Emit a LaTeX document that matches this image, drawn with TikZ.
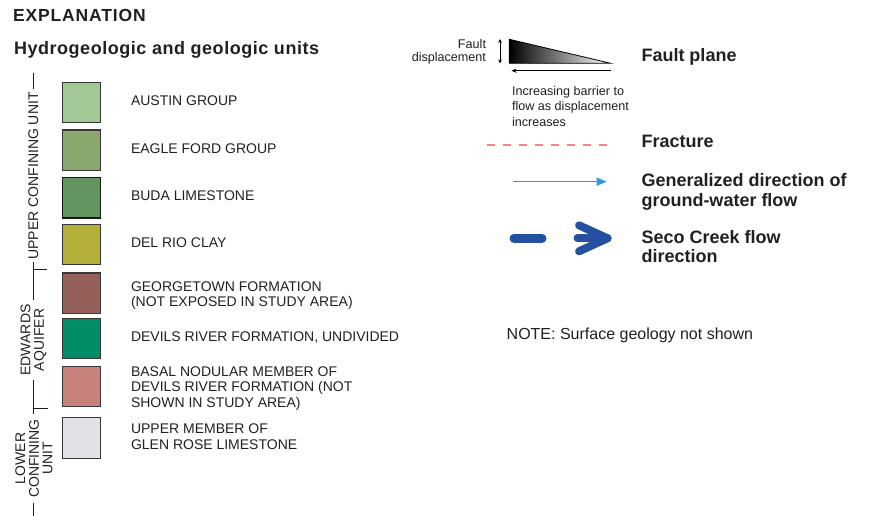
\documentclass[tikz,border=0pt]{standalone}
\usepackage{fontspec}
\setmainfont{Liberation Sans}
\usetikzlibrary{arrows.meta}
\definecolor{txt}{HTML}{231F20}
\definecolor{cAustin}{HTML}{A2C895}
\definecolor{cEagle}{HTML}{8AA86E}
\definecolor{cBuda}{HTML}{62955F}
\definecolor{cDelRio}{HTML}{B4B03A}
\definecolor{cGeorge}{HTML}{955F5A}
\definecolor{cDevils}{HTML}{008D68}
\definecolor{cBasal}{HTML}{C8827B}
\definecolor{cGlen}{HTML}{E1E2E6}
\definecolor{cFract}{HTML}{EE8A78}
\definecolor{cFlow}{HTML}{2E9AD8}
\definecolor{cSeco}{HTML}{2350A0}
\begin{document}
\begin{tikzpicture}[x=1pt,y=-1pt,
  every node/.style={inner sep=0pt,outer sep=0pt,text=txt},
  swatch/.style={draw=black!78,line width=1.2pt,minimum width=38pt,minimum height=40.5pt},
  lbl/.style={font=\fontsize{14}{15.5}\selectfont,anchor=north west,align=left},
  blbl/.style={font=\fontsize{18}{19.8}\selectfont\bfseries,align=left},
  rlbl/.style={font=\fontsize{14}{13.6}\selectfont,rotate=90,align=center},
  small/.style={font=\fontsize{12.6}{15.5}\selectfont},
  bracket/.style={draw=txt,line width=0.9pt}]
\useasboundingbox (0,0) rectangle (869,516);

% headings
\node[anchor=base west,font=\fontsize{17.5}{20}\selectfont\bfseries\addfontfeature{LetterSpace=5}] (expl) at (13,21.7) {EXPLANATION};
\node[anchor=base west,font=\fontsize{18}{20}\selectfont\bfseries\addfontfeature{LetterSpace=3}] (hydro) at (14,55) {Hydrogeologic and geologic units};

% swatches
\node[swatch,fill=cAustin] (b1) at (81.5,102.5) {};
\node[swatch,fill=cEagle] (b2) at (81.5,150.3) {};
\node[swatch,fill=cBuda,draw=black!90,line width=1.6pt] (b3) at (81.5,197.8) {};
\node[swatch,fill=cDelRio] (b4) at (81.5,244.5) {};
\node[swatch,fill=cGeorge] (b5) at (81.5,293.2) {};
\node[swatch,fill=cDevils] (b6) at (81.5,338.4) {};
\node[swatch,fill=cBasal] (b7) at (81.5,386.4) {};
\node[swatch,fill=cGlen] (b8) at (81.5,438) {};

% unit labels
\node[lbl] (t1) at (131,96) {AUSTIN GROUP};
\node[lbl] (t2) at (131,143.3) {EAGLE FORD GROUP};
\node[lbl] (t3) at (131,190.7) {BUDA LIMESTONE};
\node[lbl] (t4) at (131,238) {DEL RIO CLAY};
\node[lbl] (t5) at (131,281.7) {GEORGETOWN FORMATION\\(NOT EXPOSED IN STUDY AREA)};
\node[lbl] (t6) at (131,331.5) {DEVILS RIVER FORMATION, UNDIVIDED};
\node[lbl] (t7) at (131,366.7) {BASAL NODULAR MEMBER OF\\DEVILS RIVER FORMATION (NOT\\SHOWN IN STUDY AREA)};
\node[lbl] (t8) at (131,424) {UPPER MEMBER OF\\GLEN ROSE LIMESTONE};

% bracket labels
\node[rlbl] (upper) at (33.3,176) {UPPER CONFINING UNIT};
\node[rlbl] (edw) at (33.6,340) {EDWARDS\\AQUIFER};
\node[rlbl] (lower) at (34,458.5) {LOWER\\CONFINING\\UNIT};
\coordinate (v0) at (33.3,72.7);
\coordinate (v1) at (33.3,89);
\coordinate (v2) at (33.3,262);
\coordinate (v3) at (33.3,300);
\coordinate (k1a) at (33.3,269.3);
\coordinate (k1b) at (46.5,269.3);
\coordinate (v4) at (33.3,380);
\coordinate (v5) at (33.3,414);
\coordinate (k2a) at (33.3,408.3);
\coordinate (k2b) at (47.5,408.3);
\coordinate (v6) at (33.3,503);
\coordinate (v7) at (33.3,516);
\draw[bracket] (v0) -- (v1);
\draw[bracket] (v2) -- (v3);
\draw[bracket] (k1a) -- (k1b);
\draw[bracket] (v4) -- (v5);
\draw[bracket] (k2a) -- (k2b);
\draw[bracket] (v6) -- (v7);

% fault plane symbol
\coordinate (fa) at (509.3,39.3);
\coordinate (fb) at (610.7,63.3);
\coordinate (fc) at (509.3,63.3);
\shade[left color=black,right color=white,draw=black,line width=0.8pt,line join=miter] (fa) -- (fb) -- (fc) -- cycle;
\coordinate (da) at (500,39);
\coordinate (db) at (500,63.5);
\draw[line width=0.8pt,{Stealth[length=4pt,width=3.6pt]}-{Stealth[length=4pt,width=3.6pt]}] (da) -- (db);
\coordinate (ia) at (511.5,70.7);
\coordinate (ib) at (610.7,70.7);
\draw[line width=0.9pt,{Stealth[length=5pt,width=4.2pt]}-] (ia) -- (ib);
\node[small,anchor=north east,align=right,font=\fontsize{12.6}{13.2}\selectfont] (fdisp) at (486,39.3) {Fault\\displacement};
\node[small,anchor=north west,align=left] (incr) at (512,86) {Increasing barrier to\\flow as displacement\\increases};
\node[blbl,anchor=base west] (fplane) at (641.5,61.7) {Fault plane};

% fracture
\coordinate (fr1) at (486.7,145);
\coordinate (fr2) at (606.7,145);
\draw[cFract,line width=1.2pt,dash pattern=on 8pt off 8pt] (fr1) -- (fr2);
\node[blbl,anchor=base west] (fract) at (641.5,147.3) {Fracture};

% general flow
\coordinate (g1) at (513.3,181.7);
\coordinate (g2) at (606.7,181.7);
\draw[cFlow,line width=1.5pt,-{Triangle[length=10pt,width=8pt]}] (g1) -- (g2);
\node[blbl,anchor=north west] (gen) at (641.5,173.3) {Generalized direction of\\ground-water flow};

% Seco Creek
\coordinate (s1) at (514,238.3);
\coordinate (s2) at (542,238.3);
\draw[cSeco,line width=9pt,line cap=round] (s1) -- (s2);
\coordinate (c1) at (579,225.3);
\coordinate (c2) at (607.5,238.3);
\coordinate (c3) at (579,251.3);
\coordinate (c4) at (577.5,238.3);
\draw[cSeco,line width=8pt,line cap=round,line join=round] (c1) -- (c2) -- (c3);
\draw[cSeco,line width=8pt,line cap=round] (c4) -- (c2);
\node[blbl,anchor=north west] (seco) at (641.5,230) {Seco Creek flow\\direction};

% note
\node[anchor=base west,font=\fontsize{16}{18}\selectfont] (note) at (506.7,339) {NOTE: Surface geology not shown};
\end{tikzpicture}
\end{document}
